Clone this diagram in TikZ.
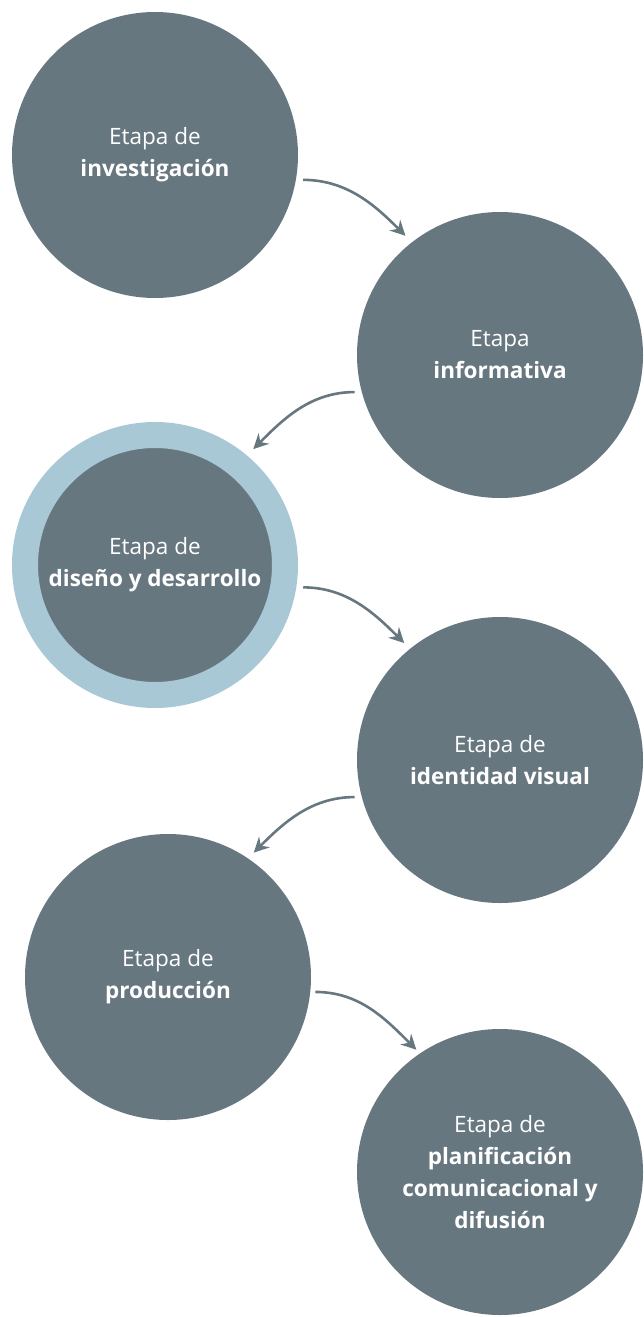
\documentclass[tikz,border=0pt]{standalone}
\usepackage{fontspec}
\setmainfont{Open Sans}
\usetikzlibrary{arrows.meta}
\definecolor{etapagris}{RGB}{103,119,128}
\definecolor{etapaazul}{RGB}{168,200,213}
\newcommand{\etapa}[2]{#1\\\textbf{#2}}
\tikzset{
            fase/.style={circle, fill=etapagris, minimum size=286pt, inner sep=0pt,
                         text=white, align=center, font=\fontsize{22.5}{32}\selectfont},
            actual/.style={draw=etapaazul, line width=26pt, minimum size=260pt},
            flecha/.style={draw=etapagris, line width=2.6pt, -{Stealth[length=15pt,width=15pt,inset=5pt]}}
        }
\begin{document}
\begin{tikzpicture}[
                    x=1pt, y=-1pt
                    ]
                \useasboundingbox (0,0) rectangle (644,1317);
                \node[fase] (inv) at (155,155) {\etapa{Etapa de}{investigación}};
                \node[fase] (inf) at (500,355) {\etapa{Etapa}{informativa}};
                \node[fase, actual] (dis) at (155,565) {\etapa{Etapa de}{diseño y desarrollo}};
                \node[fase] (ide) at (500,760) {\etapa{Etapa de}{identidad visual}};
                \node[fase] (pro) at (168,977) {\etapa{Etapa de}{producción}};
                \node[fase] (pla) at (500,1172) {\etapa{Etapa de}{planificación}\\\textbf{comunicacional y}\\\textbf{difusión}};
                % flechas entre etapas
                \draw[flecha, shorten <=7pt, shorten >=9pt] (inv.-10) to[out=0, in=135] (inf.128);
                \draw[flecha, shorten <=7pt, shorten >=9pt] (inf.195) to[out=180, in=45] (dis.50);
                \draw[flecha, shorten <=7pt, shorten >=8pt] (dis.-9) to[out=0, in=135] (ide.129);
                \draw[flecha, shorten <=7pt, shorten >=8pt] (ide.195) to[out=180, in=45] (pro.56);
                \draw[flecha, shorten <=5pt, shorten >=5pt] (pro.-6) to[out=0, in=135] (pla.124);
            \end{tikzpicture}
\end{document}
